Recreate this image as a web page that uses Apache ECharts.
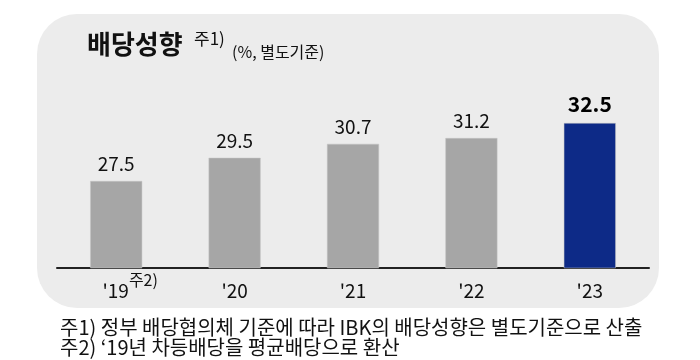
<!DOCTYPE html>
<html><head><meta charset="utf-8">
<script src="https://cdn.jsdelivr.net/npm/echarts@6/dist/echarts.min.js"></script>
<style>html,body{margin:0;padding:0;background:#fff}#c{width:700px;height:360px}</style>
</head><body><div id="c"></div>
<script>
const categories = ["'19", "'20", "'21", "'22", "'23"];
const payoutRatio = [27.5, 29.5, 30.7, 31.2, 32.5];
const titleText = "배당성향";
const titleNote = "주1)";
const unitText = "(%, 별도기준)";
const axisNote = "주2)";
const footnotes = [
  "주1) 정부 배당협의체 기준에 따라 IBK의 배당성향은 별도기준으로 산출",
  "주2) ‘19년 차등배당을 평균배당으로 환산"
];
const FF = '"Noto Sans CJK KR", "Noto Sans", sans-serif';
const chart = echarts.init(document.getElementById('c'));
const last = payoutRatio.length - 1;
chart.setOption({
  backgroundColor: '#ffffff',
  animation: false,
  graphic: [
    {type: 'rect', z: -10, shape: {x: 37, y: 14, width: 622, height: 294, r: 40}, style: {fill: '#ececec'}},
    {type: 'text', x: 87, y: 44, style: {text: titleText, font: 'bold 26px ' + FF, fill: '#111', verticalAlign: 'middle', textVerticalAlign: 'middle'}},
    {type: 'text', x: 194, y: 39, style: {text: titleNote, font: '17px ' + FF, fill: '#111', verticalAlign: 'middle', textVerticalAlign: 'middle'}},
    {type: 'text', x: 232, y: 52, style: {text: unitText, font: '16px ' + FF, fill: '#111', verticalAlign: 'middle', textVerticalAlign: 'middle'}},
    {type: 'text', x: 60, y: 327, style: {text: footnotes[0], font: '20px ' + FF, fill: '#111', verticalAlign: 'middle', textVerticalAlign: 'middle'}},
    {type: 'text', x: 60, y: 347, style: {text: footnotes[1], font: '20px ' + FF, fill: '#111', verticalAlign: 'middle', textVerticalAlign: 'middle'}}
  ],
  grid: {left: 57, right: 51, top: 94, bottom: 92},
  xAxis: {
    type: 'category', data: categories,
    axisLine: {lineStyle: {color: '#222', width: 2}},
    axisTick: {show: false},
    axisLabel: {
      margin: 4,
      formatter: (v, i) => i === 0 ? '{m0|' + v + '}{s|' + axisNote + '}' : '{m|' + v + '}',
      rich: {
        m: {fontFamily: FF, fontSize: 19, color: '#111', lineHeight: 22, padding: [15, 0, 0, 0]},
        m0: {fontFamily: FF, fontSize: 19, color: '#111', lineHeight: 22, padding: [15, 0, 0, 28]},
        s: {fontFamily: FF, fontSize: 16, color: '#111', lineHeight: 16, verticalAlign: 'top'}
      }
    }
  },
  yAxis: {type: 'value', min: 20, max: 35, show: false, splitLine: {show: false}},
  series: [{
    type: 'bar',
    barWidth: 52,
    data: payoutRatio.map((v, i) => i === last ? {
      value: v,
      itemStyle: {color: '#0d2a87'},
      label: {fontWeight: 'bold', fontSize: 21, color: '#000'}
    } : v),
    itemStyle: {color: '#a6a6a6', borderColor: '#c4c4c4', borderWidth: 0.5},
    label: {show: true, position: 'top', distance: 8, fontFamily: FF, fontSize: 19, color: '#111'}
  }]
});
</script></body></html>
